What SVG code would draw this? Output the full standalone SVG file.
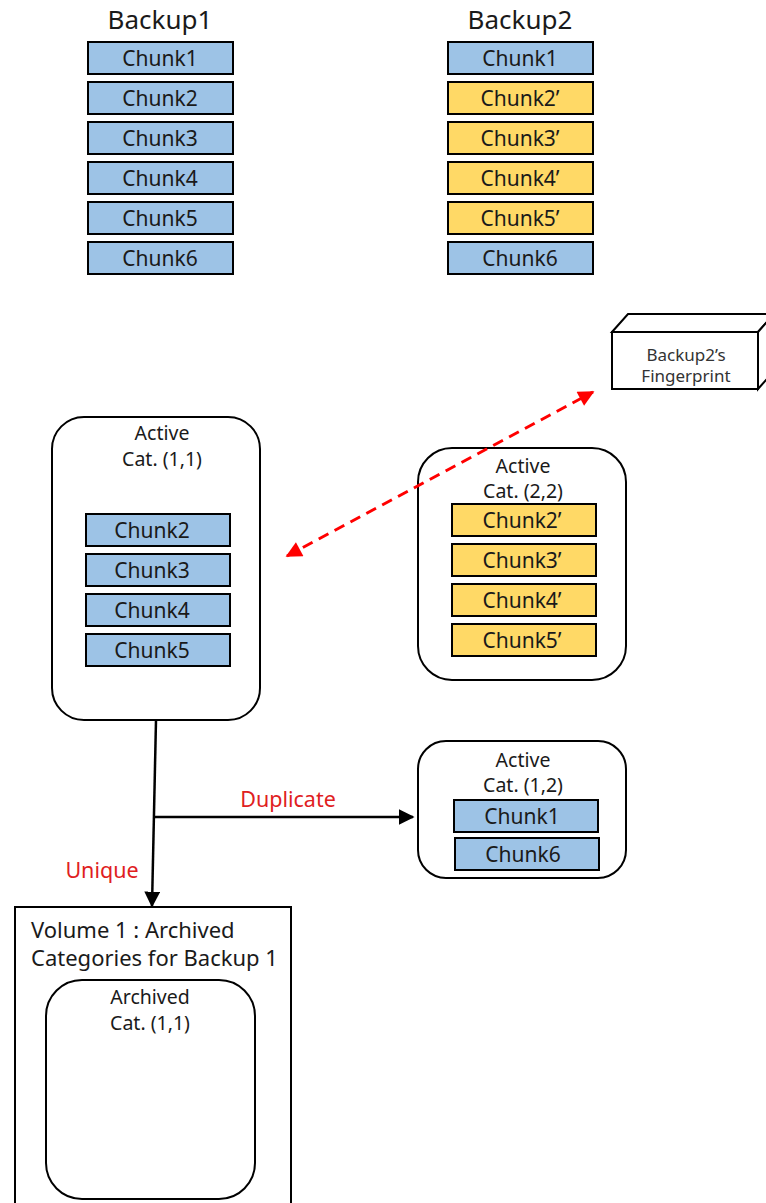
<svg xmlns="http://www.w3.org/2000/svg" width="766" height="1203" viewBox="0 0 766 1203">
<defs>
<style>
text{font-family:"Noto Sans","Liberation Sans",sans-serif;fill:#1a1a1a}
.title{font-size:26px;text-anchor:middle}
.ck{font-size:21px;text-anchor:middle}
.lbl{font-size:19.5px;text-anchor:middle}
.blue{fill:#9DC3E6;stroke:#000;stroke-width:2}
.yel{fill:#FFD966;stroke:#000;stroke-width:2}
.box{fill:#fff;stroke:#000;stroke-width:2}
.red{fill:#E0201E;font-size:21.5px;text-anchor:middle}
.conn{stroke:#000;stroke-width:2.5;fill:none}
</style>
<marker id="ahb" viewBox="0 0 10 10" refX="9" refY="5" markerWidth="16" markerHeight="16" orient="auto" markerUnits="userSpaceOnUse">
<path d="M0,0 L10,5 L0,10 Z" fill="#000"/>
</marker>
<marker id="ahr" viewBox="0 0 10 10" refX="9" refY="5" markerWidth="18" markerHeight="16" orient="auto-start-reverse" markerUnits="userSpaceOnUse">
<path d="M0,0 L10,5 L0,10 Z" fill="#FF0000"/>
</marker>
</defs>

<g id="backup1">
<text class="title" x="160" y="29">Backup1</text>
<rect class="blue" x="88" y="42" width="145" height="32"/><text class="ck" x="160" y="66">Chunk1</text>
<rect class="blue" x="88" y="82" width="145" height="32"/><text class="ck" x="160" y="106">Chunk2</text>
<rect class="blue" x="88" y="122" width="145" height="32"/><text class="ck" x="160" y="146">Chunk3</text>
<rect class="blue" x="88" y="162" width="145" height="32"/><text class="ck" x="160" y="186">Chunk4</text>
<rect class="blue" x="88" y="202" width="145" height="32"/><text class="ck" x="160" y="226">Chunk5</text>
<rect class="blue" x="88" y="242" width="145" height="32"/><text class="ck" x="160" y="266">Chunk6</text>
</g>

<g id="backup2">
<text class="title" x="520" y="29">Backup2</text>
<rect class="blue" x="448" y="42" width="145" height="32"/><text class="ck" x="520" y="66">Chunk1</text>
<rect class="yel" x="448" y="82" width="145" height="32"/><text class="ck" x="520" y="106">Chunk2’</text>
<rect class="yel" x="448" y="122" width="145" height="32"/><text class="ck" x="520" y="146">Chunk3’</text>
<rect class="yel" x="448" y="162" width="145" height="32"/><text class="ck" x="520" y="186">Chunk4’</text>
<rect class="yel" x="448" y="202" width="145" height="32"/><text class="ck" x="520" y="226">Chunk5’</text>
<rect class="blue" x="448" y="242" width="145" height="32"/><text class="ck" x="520" y="266">Chunk6</text>
</g>

<g id="fingerprint">
<path d="M612,332 L628,314 L774,314 L758,332 Z" fill="#fff" stroke="#000" stroke-width="2"/>
<path d="M758,332 L774,314 L774,371 L758,389 Z" fill="#fff" stroke="#000" stroke-width="2"/>
<rect class="box" x="612" y="332" width="146" height="57"/>
<text x="686" y="361" style="font-size:17px;text-anchor:middle;fill:#333">Backup2’s</text>
<text x="686" y="382" style="font-size:17px;text-anchor:middle;fill:#333">Fingerprint</text>
</g>

<g id="active11">
<rect class="box" x="52" y="417" width="208" height="303" rx="32"/>
<text class="lbl" x="162" y="440">Active</text>
<text class="lbl" x="162" y="466">Cat. (1,1)</text>
<rect class="blue" x="86" y="514" width="144" height="32"/><text class="ck" x="152" y="538">Chunk2</text>
<rect class="blue" x="86" y="554" width="144" height="32"/><text class="ck" x="152" y="578">Chunk3</text>
<rect class="blue" x="86" y="594" width="144" height="32"/><text class="ck" x="152" y="618">Chunk4</text>
<rect class="blue" x="86" y="634" width="144" height="32"/><text class="ck" x="152" y="658">Chunk5</text>
</g>

<g id="active22">
<rect class="box" x="418" y="448" width="208" height="232" rx="34"/>
<text class="lbl" x="523" y="473">Active</text>
<text class="lbl" x="523" y="498">Cat. (2,2)</text>
<rect class="yel" x="452" y="504" width="144" height="32"/><text class="ck" x="522" y="528">Chunk2’</text>
<rect class="yel" x="452" y="544" width="144" height="32"/><text class="ck" x="522" y="568">Chunk3’</text>
<rect class="yel" x="452" y="584" width="144" height="32"/><text class="ck" x="522" y="608">Chunk4’</text>
<rect class="yel" x="452" y="624" width="144" height="32"/><text class="ck" x="522" y="648">Chunk5’</text>
</g>

<g id="active12">
<rect class="box" x="418" y="741" width="208" height="137" rx="28"/>
<text class="lbl" x="523" y="767">Active</text>
<text class="lbl" x="523" y="792">Cat. (1,2)</text>
<rect class="blue" x="454" y="800" width="144" height="32"/><text class="ck" x="522" y="824">Chunk1</text>
<rect class="blue" x="455" y="838" width="144" height="32"/><text class="ck" x="523" y="862">Chunk6</text>
</g>

<g id="volume1">
<rect class="box" x="15" y="907" width="276" height="310"/>
<text x="31" y="938" style="font-size:22px">Volume 1 : Archived</text>
<text x="31" y="966" style="font-size:22px">Categories for Backup 1</text>
<g id="archived11">
<rect class="box" x="46" y="980" width="209" height="219" rx="36"/>
<text class="lbl" x="150" y="1004">Archived</text>
<text class="lbl" x="150" y="1030">Cat. (1,1)</text>
</g>
</g>

<g id="connectors">
<line class="conn" x1="156" y1="720" x2="152" y2="906" marker-end="url(#ahb)"/>
<line class="conn" x1="155" y1="817" x2="413" y2="817" marker-end="url(#ahb)"/>
<line x1="287" y1="556" x2="593" y2="392" stroke="#FF0000" stroke-width="3" stroke-dasharray="11,7" marker-start="url(#ahr)" marker-end="url(#ahr)"/>
<text class="red" x="288" y="807">Duplicate</text>
<text class="red" x="102" y="878">Unique</text>
</g>
</svg>
